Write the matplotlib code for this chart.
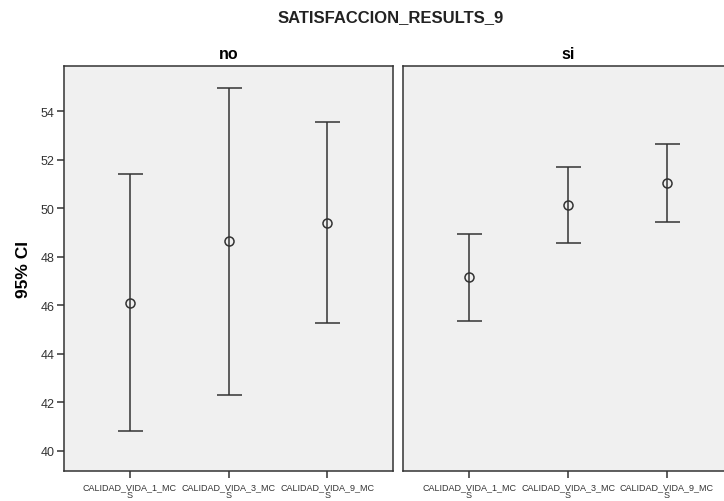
import matplotlib.pyplot as plt
import numpy as np

plt.rcParams['font.family'] = ['Liberation Sans', 'DejaVu Sans']

variables = ['CALIDAD_VIDA_1_MC\nS', 'CALIDAD_VIDA_3_MC\nS', 'CALIDAD_VIDA_9_MC\nS']
grupos = ['no', 'si']

# medias e intervalos de confianza al 95%
media_no = [46.10, 48.64, 49.40]
inf_no = [40.81, 42.30, 45.27]
sup_no = [51.41, 54.97, 53.55]

media_si = [47.15, 50.13, 51.04]
inf_si = [45.35, 48.56, 49.42]
sup_si = [48.94, 51.70, 52.65]

datos = {
    'no': (media_no, inf_no, sup_no),
    'si': (media_si, inf_si, sup_si),
}

W, H = 724, 502
fig = plt.figure(figsize=(W / 100, H / 100), dpi=100)

ax_no = fig.add_axes([64 / W, 30 / H, 329 / W, 405 / H])
ax_si = fig.add_axes([403 / W, 30 / H, 330 / W, 405 / H], sharey=ax_no)

x = np.arange(len(variables))
color = '#333333'

for ax, g in zip([ax_no, ax_si], grupos):
    media, inf, sup = datos[g]
    media = np.array(media)
    err = [media - np.array(inf), np.array(sup) - media]
    ax.errorbar(x, media, yerr=err, fmt='o', color=color, mfc='none',
                mec=color, ms=6.5, mew=1.1, elinewidth=1.1, capsize=9,
                capthick=1.1)
    ax.set_facecolor('#f0f0f0')
    ax.set_xlim(-0.667, 2.667)
    ax.set_xticks(x)
    ax.set_xticklabels(variables, fontsize=6.5, color='#333333',
                       linespacing=0.9)
    ax.set_title(g, fontsize=11.5, fontweight='bold', pad=6)
    for s in ax.spines.values():
        s.set_color('#333333')
        s.set_linewidth(1.1)
    ax.tick_params(axis='x', direction='out', length=5, width=1.1,
                   color='#333333', pad=3)

ax_no.set_ylim(39.16, 55.87)
ax_no.set_yticks(np.arange(40, 56, 2))
ax_no.tick_params(axis='y', direction='out', length=5, width=1.1,
                  color='#333333', labelsize=9, labelcolor='#333333', pad=2)
ax_no.set_ylabel('95% CI', fontsize=12.5, fontweight='bold', labelpad=7)
ax_si.tick_params(axis='y', left=False, labelleft=False)

fig.text(391 / W, 1 - 18 / H, 'SATISFACCION_RESULTS_9', ha='center',
         va='center', fontsize=12, fontweight='bold', color='#222222')

fig.savefig('out.png', dpi=100)
